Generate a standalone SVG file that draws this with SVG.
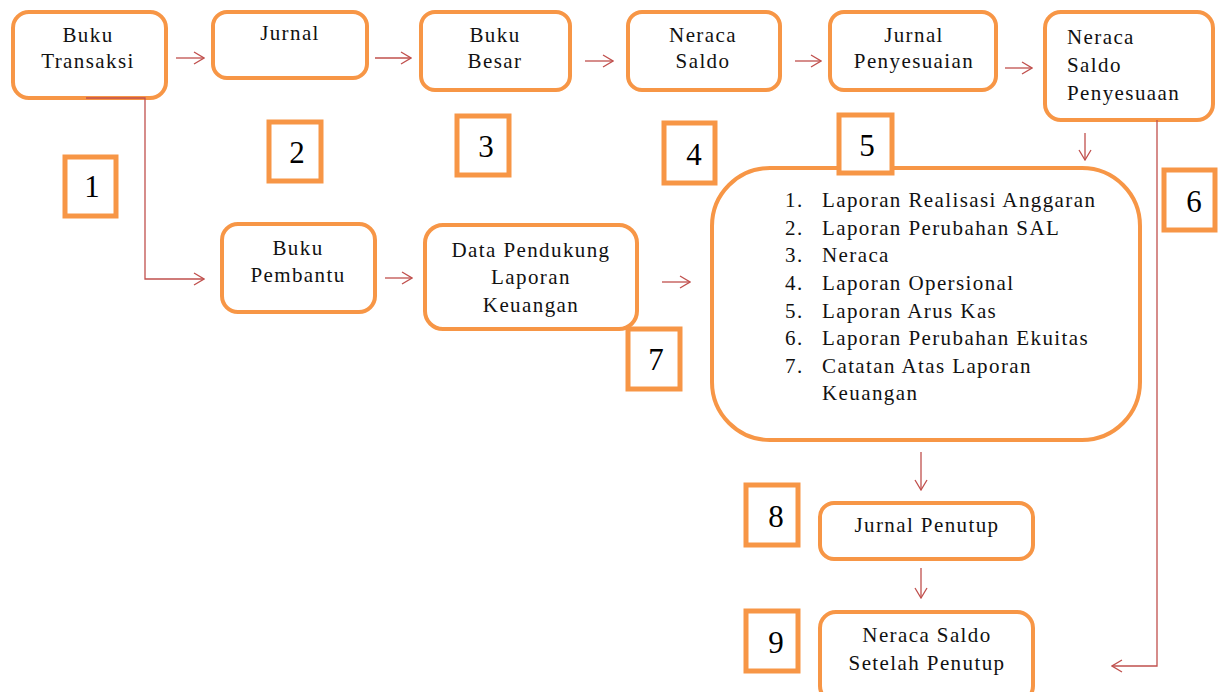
<svg xmlns="http://www.w3.org/2000/svg" width="1222" height="692" viewBox="0 0 1222 692">
<style>
.box{fill:#fff;stroke:#F79646;stroke-width:4}
.num{fill:#fff;stroke:#F79646;stroke-width:5}
.t{font-family:"Liberation Serif","Times New Roman",serif;font-size:21px;letter-spacing:1.4px;fill:#111}
.c{text-anchor:middle}
.n{font-family:"Liberation Serif","Times New Roman",serif;font-size:31px;fill:#000;text-anchor:middle}
.ln{fill:none;stroke:#C0504D;stroke-width:1.3}
</style>
<defs>
<marker id="ah" viewBox="0 0 12 14" refX="11" refY="7" markerWidth="12" markerHeight="14" markerUnits="userSpaceOnUse" orient="auto">
<path d="M1,1 L11,7 L1,13" fill="none" stroke="#C0504D" stroke-width="1.3"/>
</marker>
</defs>
<rect width="1222" height="692" fill="#fff"/>

<g id="n-buku-transaksi"><rect class="box" x="13" y="12" width="153" height="86" rx="16"/>
<text class="t c" x="88" y="42">Buku</text><text class="t c" x="88" y="68">Transaksi</text></g>
<g id="n-jurnal"><rect class="box" x="213" y="12" width="154" height="66" rx="14"/>
<text class="t c" x="290" y="40">Jurnal</text></g>
<g id="n-buku-besar"><rect class="box" x="421" y="12" width="149" height="78" rx="14"/>
<text class="t c" x="495" y="42">Buku</text><text class="t c" x="495" y="68">Besar</text></g>
<g id="n-neraca-saldo"><rect class="box" x="628" y="12" width="152" height="78" rx="14"/>
<text class="t c" x="703" y="42">Neraca</text><text class="t c" x="703" y="68">Saldo</text></g>
<g id="n-jurnal-penyesuaian"><rect class="box" x="830" y="12" width="166" height="78" rx="14"/>
<text class="t c" x="914" y="42">Jurnal</text><text class="t c" x="914" y="68">Penyesuaian</text></g>
<g id="n-nsp"><rect class="box" x="1045" y="12" width="168" height="108" rx="16"/>
<text class="t" x="1067" y="44">Neraca</text><text class="t" x="1067" y="72">Saldo</text><text class="t" x="1067" y="100">Penyesuaan</text></g>

<g id="n-buku-pembantu"><rect class="box" x="222" y="224" width="153" height="88" rx="16"/>
<text class="t c" x="298" y="255">Buku</text><text class="t c" x="298" y="282">Pembantu</text></g>
<g id="n-data-pendukung"><rect class="box" x="425" y="225" width="212" height="104" rx="18"/>
<text class="t c" x="531" y="257">Data Pendukung</text><text class="t c" x="531" y="284">Laporan</text><text class="t c" x="531" y="312">Keuangan</text></g>

<g id="n-laporan"><rect class="box" x="712" y="168" width="428" height="272" rx="58"/>
<g class="t">
<text x="785" y="207">1.</text><text x="822" y="207">Laporan Realisasi Anggaran</text>
<text x="785" y="235">2.</text><text x="822" y="235">Laporan Perubahan SAL</text>
<text x="785" y="262">3.</text><text x="822" y="262">Neraca</text>
<text x="785" y="290">4.</text><text x="822" y="290">Laporan Opersional</text>
<text x="785" y="318">5.</text><text x="822" y="318">Laporan Arus Kas</text>
<text x="785" y="345">6.</text><text x="822" y="345">Laporan Perubahan Ekuitas</text>
<text x="785" y="373">7.</text><text x="822" y="373">Catatan Atas Laporan</text>
<text x="822" y="400">Keuangan</text>
</g></g>

<g id="n-jurnal-penutup"><rect class="box" x="820" y="503" width="213" height="56" rx="14"/>
<text class="t c" x="927" y="532">Jurnal Penutup</text></g>
<g id="n-nssp"><rect class="box" x="820" y="612" width="213" height="90" rx="16"/>
<text class="t c" x="927" y="642">Neraca Saldo</text><text class="t c" x="927" y="670">Setelah Penutup</text></g>

<g id="connectors">
<line class="ln" x1="176" y1="58" x2="204" y2="58" marker-end="url(#ah)"/>
<line class="ln" x1="375" y1="58" x2="411" y2="58" marker-end="url(#ah)"/>
<line class="ln" x1="585" y1="61" x2="613" y2="61" marker-end="url(#ah)"/>
<line class="ln" x1="795" y1="61" x2="821" y2="61" marker-end="url(#ah)"/>
<line class="ln" x1="1005" y1="68" x2="1032" y2="68" marker-end="url(#ah)"/>
<polyline class="ln" points="86,98 145,98 145,279 204,279" marker-end="url(#ah)"/>
<line class="ln" x1="385" y1="278" x2="412" y2="278" marker-end="url(#ah)"/>
<line class="ln" x1="662" y1="282" x2="690" y2="282" marker-end="url(#ah)"/>
<line class="ln" x1="1085" y1="133" x2="1085" y2="160" marker-end="url(#ah)"/>
<polyline class="ln" points="1157,120 1157,666 1112,666" marker-end="url(#ah)"/>
<line class="ln" x1="921" y1="452" x2="921" y2="490" marker-end="url(#ah)"/>
<line class="ln" x1="921" y1="568" x2="921" y2="598" marker-end="url(#ah)"/>
</g>

<g id="labels">
<g id="l1"><rect class="num" x="65" y="157" width="51" height="59"/><text class="n" x="92" y="197">1</text></g>
<g id="l2"><rect class="num" x="269" y="122" width="52" height="59"/><text class="n" x="297" y="163">2</text></g>
<g id="l3"><rect class="num" x="457" y="116" width="52" height="59"/><text class="n" x="486" y="157">3</text></g>
<g id="l4"><rect class="num" x="664" y="123" width="51" height="60"/><text class="n" x="694" y="165">4</text></g>
<g id="l5"><rect class="num" x="839" y="115" width="53" height="58"/><text class="n" x="867" y="156">5</text></g>
<g id="l6"><rect class="num" x="1164" y="170" width="51" height="60"/><text class="n" x="1194" y="212">6</text></g>
<g id="l7"><rect class="num" x="628" y="329" width="52" height="60"/><text class="n" x="656" y="370">7</text></g>
<g id="l8"><rect class="num" x="746" y="485" width="52" height="60"/><text class="n" x="776" y="527">8</text></g>
<g id="l9"><rect class="num" x="746" y="611" width="52" height="60"/><text class="n" x="776" y="653">9</text></g>
</g>
</svg>
